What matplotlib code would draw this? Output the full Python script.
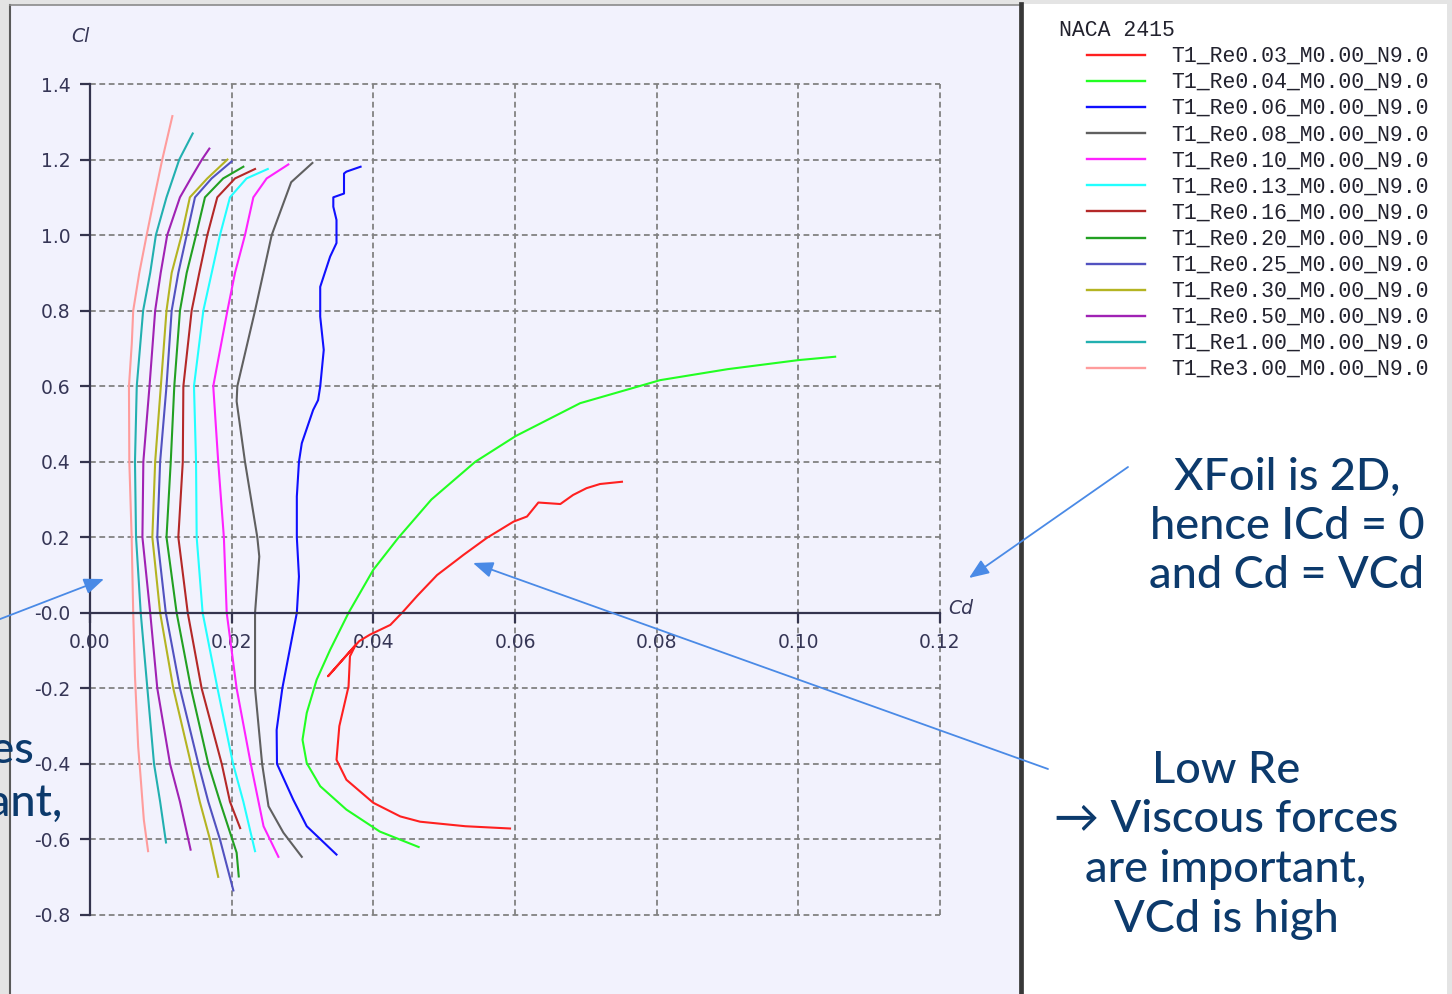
import matplotlib
matplotlib.use("Agg")
import matplotlib.pyplot as plt
from matplotlib.patches import Rectangle, FancyArrowPatch
from matplotlib.lines import Line2D

# ---------------------------------------------------------------- data
# NACA 2415 drag polars (Cd, Cl), one series per Reynolds number (millions)
re_labels = ["T1_Re0.03_M0.00_N9.0", "T1_Re0.04_M0.00_N9.0", "T1_Re0.06_M0.00_N9.0",
             "T1_Re0.08_M0.00_N9.0", "T1_Re0.10_M0.00_N9.0", "T1_Re0.13_M0.00_N9.0",
             "T1_Re0.16_M0.00_N9.0", "T1_Re0.20_M0.00_N9.0", "T1_Re0.25_M0.00_N9.0",
             "T1_Re0.30_M0.00_N9.0", "T1_Re0.50_M0.00_N9.0", "T1_Re1.00_M0.00_N9.0",
             "T1_Re3.00_M0.00_N9.0"]
re_colors = ["#ff2020", "#22ff22", "#1010ff", "#606060", "#ff22ff", "#22ffff",
             "#b42828", "#22a022", "#5252c0", "#b4b422", "#a022b4", "#22b0b0", "#ff9c9c"]

cd_re003 = [0.0593, 0.0530, 0.0466, 0.0438, 0.0400, 0.0362, 0.0348, 0.0352, 0.0365, 0.0367,
            0.0375, 0.0336, 0.0380, 0.0395, 0.0424, 0.0442, 0.0462, 0.0490, 0.0518, 0.0527,
            0.0560, 0.0598, 0.0617, 0.0633, 0.0664, 0.0682, 0.0701, 0.0720, 0.0751]
cl_re003 = [-0.571, -0.565, -0.553, -0.539, -0.503, -0.442, -0.389, -0.300, -0.195, -0.115,
            -0.085, -0.168, -0.075, -0.058, -0.032, 0.003, 0.045, 0.100, 0.140, 0.153,
            0.198, 0.2415, 0.255, 0.292, 0.288, 0.312, 0.330, 0.341, 0.347]

cd_re004 = [0.0464, 0.0409, 0.0362, 0.0325, 0.0306, 0.0300, 0.0306, 0.0320, 0.0339, 0.0365,
            0.0400, 0.0435, 0.0482, 0.0544, 0.0601, 0.0692, 0.0805, 0.0900, 0.1000, 0.1052]
cl_re004 = [-0.620, -0.579, -0.521, -0.459, -0.398, -0.336, -0.265, -0.177, -0.098, 0.000,
            0.114, 0.198, 0.300, 0.400, 0.468, 0.555, 0.616, 0.645, 0.669, 0.678]

cd_re006 = [0.0348, 0.0306, 0.0287, 0.0264, 0.02635, 0.02715, 0.0292, 0.0295, 0.0292, 0.0292,
            0.0295, 0.0299, 0.0315, 0.0322, 0.0325, 0.0330, 0.0325, 0.0325, 0.0339, 0.0348,
            0.0348, 0.03435, 0.03435, 0.03586, 0.03586, 0.0362, 0.0382]
cl_re006 = [-0.640, -0.565, -0.495, -0.400, -0.310, -0.200, 0.000, 0.096, 0.200, 0.308,
            0.400, 0.449, 0.537, 0.563, 0.599, 0.696, 0.784, 0.863, 0.943, 0.979,
            1.040, 1.075, 1.100, 1.110, 1.163, 1.168, 1.181]

cd_re008 = [0.0299, 0.0273, 0.0252, 0.0243, 0.0233, 0.0233, 0.0239, 0.02362, 0.02188, 0.0207,
            0.0208, 0.0233, 0.02565, 0.0284, 0.0314]
cl_re008 = [-0.646, -0.582, -0.512, -0.400, -0.200, 0.000, 0.149, 0.200, 0.400, 0.560,
            0.600, 0.800, 1.000, 1.140, 1.191]

cd_re010 = [0.0266, 0.0245, 0.0227, 0.0207, 0.0193, 0.0189, 0.0181, 0.0174, 0.0194, 0.02047,
            0.02188, 0.02306, 0.02494, 0.0280]
cl_re010 = [-0.646, -0.565, -0.400, -0.200, 0.000, 0.200, 0.400, 0.600, 0.800, 0.900,
            1.000, 1.100, 1.150, 1.187]

cd_re013 = [0.0233, 0.02165, 0.0202, 0.0180, 0.0159, 0.01506, 0.01497, 0.01468, 0.0160, 0.01718,
            0.01835, 0.01976, 0.0221, 0.0251]
cl_re013 = [-0.631, -0.500, -0.400, -0.200, 0.000, 0.200, 0.400, 0.600, 0.800, 0.900,
            1.000, 1.100, 1.150, 1.175]

cd_re016 = [0.0212, 0.01976, 0.0186, 0.01576, 0.0138, 0.01247, 0.0131, 0.01318, 0.01435, 0.01543,
            0.01656, 0.01797, 0.02047, 0.0233]
cl_re016 = [-0.570, -0.500, -0.400, -0.200, 0.000, 0.200, 0.400, 0.600, 0.800, 0.900,
            1.000, 1.100, 1.150, 1.175]

cd_re020 = [0.0210, 0.0207, 0.01835, 0.0167, 0.01426, 0.01223, 0.0108, 0.0114, 0.0119, 0.0127,
            0.01365, 0.01497, 0.01623, 0.0188, 0.02165]
cl_re020 = [-0.698, -0.635, -0.500, -0.400, -0.200, 0.000, 0.200, 0.400, 0.600, 0.800,
            0.900, 1.000, 1.100, 1.150, 1.181]

cd_re025 = [0.02024, 0.01835, 0.0167, 0.0153, 0.0127, 0.0107, 0.0095, 0.0099, 0.0108, 0.01153,
            0.01247, 0.01365, 0.01482, 0.01717, 0.0200]
cl_re025 = [-0.735, -0.600, -0.500, -0.400, -0.200, 0.000, 0.200, 0.400, 0.600, 0.800,
            0.900, 1.000, 1.100, 1.150, 1.195]

cd_re030 = [0.0181, 0.01694, 0.0155, 0.01426, 0.01176, 0.0099, 0.0088, 0.0092, 0.0100, 0.0108,
            0.01153, 0.01294, 0.0141, 0.01656, 0.0194]
cl_re030 = [-0.699, -0.600, -0.500, -0.400, -0.200, 0.000, 0.200, 0.400, 0.600, 0.800,
            0.900, 1.000, 1.100, 1.150, 1.200]

cd_re050 = [0.0142, 0.0127, 0.0113, 0.0095, 0.0085, 0.0074, 0.00753, 0.0084, 0.0092, 0.00998,
            0.0109, 0.0127, 0.01435, 0.0158, 0.01685]
cl_re050 = [-0.627, -0.500, -0.400, -0.200, 0.000, 0.200, 0.400, 0.600, 0.800, 0.900,
            1.000, 1.100, 1.154, 1.200, 1.229]

cd_re100 = [0.01073, 0.0099, 0.00904, 0.0081, 0.00716, 0.0065, 0.00635, 0.0066, 0.0075, 0.0085,
            0.0093, 0.0108, 0.0126, 0.0145]
cl_re100 = [-0.608, -0.500, -0.400, -0.200, 0.000, 0.200, 0.400, 0.600, 0.800, 0.900,
            1.000, 1.100, 1.200, 1.269]

cd_re300 = [0.0082, 0.0076, 0.0071, 0.0068, 0.00635, 0.0061, 0.00588, 0.00555, 0.0055, 0.0059,
            0.0061, 0.00696, 0.0080, 0.00908, 0.0102, 0.01163]
cl_re300 = [-0.631, -0.548, -0.424, -0.354, -0.168, 0.000, 0.200, 0.400, 0.600, 0.713,
            0.800, 0.900, 1.000, 1.100, 1.200, 1.315]

polars_cd = [cd_re003, cd_re004, cd_re006, cd_re008, cd_re010, cd_re013, cd_re016,
             cd_re020, cd_re025, cd_re030, cd_re050, cd_re100, cd_re300]
polars_cl = [cl_re003, cl_re004, cl_re006, cl_re008, cl_re010, cl_re013, cl_re016,
             cl_re020, cl_re025, cl_re030, cl_re050, cl_re100, cl_re300]

x_ticks = [0.00, 0.02, 0.04, 0.06, 0.08, 0.10, 0.12]
x_tick_labels = ["0.00", "0.02", "0.04", "0.06", "0.08", "0.10", "0.12"]
y_ticks = [-0.8, -0.6, -0.4, -0.2, 0.0, 0.2, 0.4, 0.6, 0.8, 1.0, 1.2, 1.4]
y_tick_labels = ["-0.8", "-0.6", "-0.4", "-0.2", "-0.0", "0.2", "0.4", "0.6", "0.8",
                 "1.0", "1.2", "1.4"]

note_2d = ["XFoil is 2D,", "hence ICd = 0", "and Cd = VCd"]
note_low_re = ["Low Re", "\u2192 Viscous forces", "are important,", "VCd is high"]
note_left = ["Viscous forces", "are important,"]

# ---------------------------------------------------------------- layout
W, H = 1452, 994


def fx(px):
    return px / W


def fy(py):
    return 1.0 - py / H


fig = plt.figure(figsize=(W / 100, H / 100), dpi=100, facecolor="#e4e4e4")

# panels
fig.add_artist(Rectangle((fx(1023), fy(994)), fx(1447) - fx(1023), fy(4) - fy(994),
                         transform=fig.transFigure, facecolor="white", edgecolor="none", zorder=-10))
fig.add_artist(Rectangle((fx(10), fy(994)), fx(1019) - fx(10), fy(5) - fy(994),
                         transform=fig.transFigure, facecolor="#f2f2fd", edgecolor="none", zorder=-10))
fig.add_artist(Line2D([fx(10), fx(10)], [fy(5), fy(994)], transform=fig.transFigure,
                      color="#5a5a5a", lw=1.5, zorder=-9))
fig.add_artist(Line2D([fx(10), fx(1019)], [fy(5), fy(5)], transform=fig.transFigure,
                      color="#8a8a8a", lw=1.2, zorder=-9))
fig.add_artist(Line2D([fx(1020.5), fx(1020.5)], [fy(4), fy(994)], transform=fig.transFigure,
                      color="#383838", lw=3.4, zorder=-9))

# chart axes
axis_col = "#34344e"
label_col = "#363656"
ax = fig.add_axes([fx(90), fy(915), fx(940) - fx(90), fy(84) - fy(915)])
ax.patch.set_visible(False)
ax.set_xlim(0.0, 0.12)
ax.set_ylim(-0.8, 1.4)

for cd, cl, col in zip(polars_cd, polars_cl, re_colors):
    ax.plot(cd, cl, color=col, lw=1.5, solid_joinstyle="round", zorder=3)

ax.spines["top"].set_visible(False)
ax.spines["right"].set_visible(False)
ax.spines["bottom"].set_position(("data", 0.0))
for s in ("left", "bottom"):
    ax.spines[s].set_color(axis_col)
    ax.spines[s].set_linewidth(1.6)
    ax.spines[s].set_zorder(4)

ax.set_xticks(x_ticks)
ax.set_xticklabels(x_tick_labels)
ax.set_yticks(y_ticks)
ax.set_yticklabels(y_tick_labels)
ax.tick_params(axis="x", direction="out", length=7, width=1.6, color=axis_col, pad=7.5,
               labelsize=13.5, labelcolor=label_col)
ax.tick_params(axis="y", direction="out", length=7, width=1.6, color=axis_col, pad=7,
               labelsize=13.5, labelcolor=label_col)

ax.grid(True, color="#828282", lw=1.3, ls=(0, (3.2, 2.0)))
for gl in ax.get_xgridlines() + ax.get_ygridlines():
    gl.set_clip_on(False)

fig.text(fx(80), fy(36), "Cl", style="italic", fontsize=13.5, color=label_col,
         ha="center", va="center")
fig.text(fx(961), fy(608), "Cd", style="italic", fontsize=13.5, color=label_col,
         ha="center", va="center")

# legend
mono = "Liberation Mono"
fig.text(fx(1059), fy(36), "NACA 2415", family=mono, fontsize=15.5, color="#22222e",
         ha="left", va="baseline")
for i, (lab, col) in enumerate(zip(re_labels, re_colors)):
    yl = 55 + i * 26.08
    fig.add_artist(Line2D([fx(1087), fx(1145)], [fy(yl), fy(yl)], transform=fig.transFigure,
                          color=col, lw=1.7))
    fig.text(fx(1171), fy(yl + 7), lab, family=mono, fontsize=15.5, color="#22222e",
             ha="left", va="baseline")

# annotations
note_col = "#0c3a6c"
note_font = "Lato"
for line, base in zip(note_2d, [490, 539, 588]):
    fig.text(fx(1287), fy(base), line, family=note_font, fontsize=32.5, color=note_col,
             ha="center", va="baseline", fontweight="medium")
for line, base in zip(note_low_re, [783, 832, 882, 932]):
    fig.text(fx(1226), fy(base), line, family=note_font, fontsize=32.5, color=note_col,
             ha="center", va="baseline", fontweight="medium")
for line, base, right in zip(note_left, [763, 816], [34, 62]):
    fig.text(fx(right), fy(base), line, family=note_font, fontsize=32.5, color=note_col,
             ha="right", va="baseline", fontweight="medium")

arrow_col = "#4a8ae6"
arrows = [((-5, 621), (104, 579)), ((1128, 467), (969, 578)), ((1048, 769), (473, 563))]
for (x0, y0), (x1, y1) in arrows:
    fig.add_artist(FancyArrowPatch(
        (fx(x0), fy(y0)), (fx(x1), fy(y1)), transform=fig.transFigure,
        arrowstyle="-|>,head_length=0.55,head_width=0.22", mutation_scale=22,
        color=arrow_col, lw=1.3, shrinkA=0, shrinkB=0, zorder=20))

fig.savefig("out.png", dpi=100, facecolor=fig.get_facecolor())
